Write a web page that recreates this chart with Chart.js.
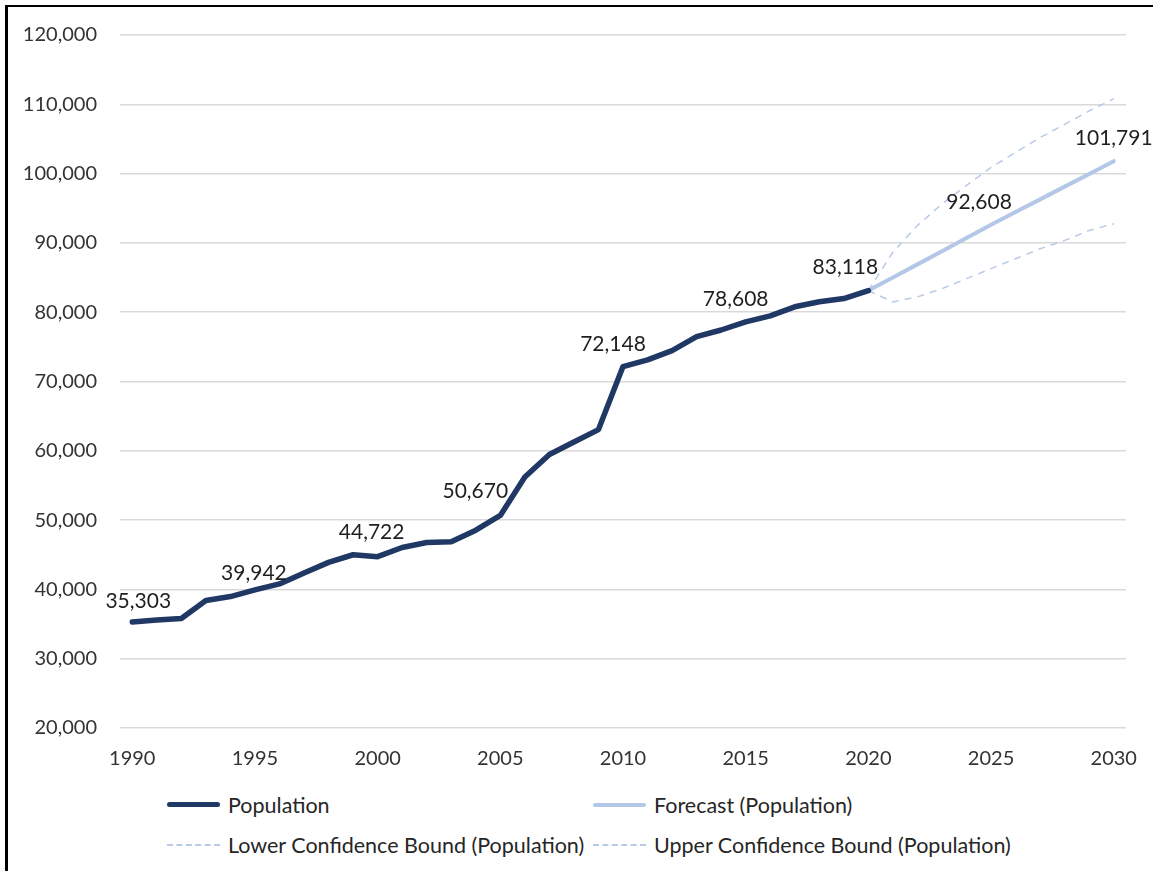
<!DOCTYPE html>
<html>
<head>
<meta charset="utf-8">
<title>Population forecast</title>
<script src="https://cdn.jsdelivr.net/npm/chart.js@4.4.1/dist/chart.umd.min.js"></script>
<style>
  body { margin: 0; background: #fff; font-family: Lato, sans-serif; }
  #wrap { position: relative; width: 1153px; height: 871px; overflow: hidden; }
  #frame { position: absolute; left: 5px; top: 5px; right: -10px; bottom: -10px;
           border-left: 3px solid #000; border-top: 2px solid #000; }
  #myChart { position: absolute; left: 0; top: 0; }
  .leg { position: absolute; font-size: 21.5px; color: #262626; white-space: nowrap; }
  .leg span.sample { position: absolute; top: 50%; }
</style>
</head>
<body>
<div id="wrap">
  <canvas id="myChart" width="1153" height="780"></canvas>
  <div id="legend"></div>
  <div id="frame"></div>
</div>
<script>
// categories
var years = [1990, 1991, 1992, 1993, 1994, 1995, 1996, 1997, 1998, 1999,
             2000, 2001, 2002, 2003, 2004, 2005, 2006, 2007, 2008, 2009,
             2010, 2011, 2012, 2013, 2014, 2015, 2016, 2017, 2018, 2019,
             2020, 2021, 2022, 2023, 2024, 2025, 2026, 2027, 2028, 2029, 2030];

// actual population 1990 - 2020
var population = [35303, 35600, 35800, 38390, 38970, 39942, 40790, 42370, 43900, 45000,
                  44722, 46050, 46770, 46870, 48550, 50670, 56210, 59470, 61280, 63060,
                  72148, 73120, 74450, 76470, 77430, 78608, 79480, 80780, 81500, 81970,
                  83118];

// forecast 2020 - 2030
var forecastYears = [2020, 2021, 2022, 2023, 2024, 2025, 2026, 2027, 2028, 2029, 2030];
var forecast = [83118, 85000, 86900, 88800, 90700, 92608, 94450, 96280, 98120, 99950, 101791];
var lowerBound = [83118, 81490, 82210, 83400, 84840, 86280, 87720, 89150, 90360, 91800, 92750];
var upperBound = [83118, 88680, 92510, 95620, 98300, 100890, 103050, 105200, 107110, 109040, 110800];

// years that carry a value label
var popLabelYears = [1990, 1995, 2000, 2005, 2010, 2015, 2020];
var forecastLabelYears = [2025, 2030];

var seriesNames = ['Population', 'Forecast (Population)',
                   'Lower Confidence Bound (Population)', 'Upper Confidence Bound (Population)'];

function alignToYears(startYear, values){
    var out = [];
    for (var i = 0; i < years.length; i++) {
        var k = years[i] - startYear;
        out.push(k >= 0 && k < values.length ? values[k] : null);
    }
    return out;
}

var navy = '#203864';
var light = '#b4c7e7';
var tickFont = { family: 'Lato', size: 20 };

// label offsets (px) relative to the point, same order as the label years
var popOffsets = [[6, -21], [-1, -17], [-6, -24], [-25, -24], [-10, -22], [-10, -23], [-23, -23]];
var fcOffsets = [[-12, -23], [0, -23]];

var valueLabels = {
    id: 'valueLabels',
    afterDatasetsDraw: function(chart){
        var ctx = chart.ctx;
        ctx.save();
        ctx.font = '21px Lato';
        ctx.fillStyle = '#1f1f1f';
        ctx.textAlign = 'center';
        ctx.textBaseline = 'middle';
        function put(dsIndex, yrs, offs){
            var meta = chart.getDatasetMeta(dsIndex);
            yrs.forEach(function(y, j){
                var idx = years.indexOf(y);
                var v = chart.data.datasets[dsIndex].data[idx];
                var pt = meta.data[idx];
                ctx.fillText(v.toLocaleString('en-US'), pt.x + offs[j][0], pt.y + offs[j][1]);
            });
        }
        put(0, popLabelYears, popOffsets);
        put(1, forecastLabelYears, fcOffsets);
        ctx.restore();
    }
};

var ctx = document.getElementById('myChart').getContext('2d');
var myChart = new Chart(ctx, {
    type: 'line',
    data: {
        labels: years,
        datasets: [{
            label: seriesNames[0],
            data: alignToYears(1990, population),
            borderColor: navy,
            borderWidth: 5.5,
            pointRadius: 0,
            borderCapStyle: 'round',
            borderJoinStyle: 'round'
        }, {
            label: seriesNames[1],
            data: alignToYears(forecastYears[0], forecast),
            borderColor: light,
            borderWidth: 4,
            pointRadius: 0,
            borderCapStyle: 'round'
        }, {
            label: seriesNames[2],
            data: alignToYears(forecastYears[0], lowerBound),
            borderColor: '#b8cae8',
            borderWidth: 1.5,
            borderDash: [7, 6],
            pointRadius: 0
        }, {
            label: seriesNames[3],
            data: alignToYears(forecastYears[0], upperBound),
            borderColor: '#b8cae8',
            borderWidth: 1.5,
            borderDash: [7, 6],
            pointRadius: 0
        }]
    },
    options: {
        responsive: false,
        animation: false,
        layout: { padding: { top: 30, right: 27, bottom: 0, left: 0 } },
        plugins: { legend: { display: false }, tooltip: { enabled: false } },
        scales: {
            x: {
                offset: true,
                grid: { display: false },
                border: { display: false },
                afterFit: function(scale){ scale.height = 52; },
                ticks: {
                    autoSkip: false,
                    maxRotation: 0,
                    padding: 11,
                    color: '#333',
                    font: tickFont,
                    callback: function(val, i){ return years[i] % 5 === 0 ? String(years[i]) : ''; }
                }
            },
            y: {
                min: 20000,
                max: 120000,
                afterFit: function(scale){ scale.width = 120; },
                grid: { color: '#d9d9d9', lineWidth: 1.5, drawTicks: false },
                border: { display: false },
                ticks: {
                    stepSize: 10000,
                    padding: 23,
                    color: '#333',
                    font: tickFont,
                    callback: function(v){ return v.toLocaleString('en-US'); }
                }
            }
        }
    },
    plugins: [valueLabels]
});

// two-column legend built from the chart's datasets
var legendPos = [[167, 805], [593, 805], [167, 845], [593, 845]];
var legend = document.getElementById('legend');
myChart.data.datasets.forEach(function(ds, i){
    var item = document.createElement('div');
    item.className = 'leg';
    item.style.left = legendPos[i][0] + 'px';
    item.style.top = (legendPos[i][1] - 13) + 'px';
    item.style.height = '26px';
    item.style.lineHeight = '26px';
    item.style.paddingLeft = '61px';
    var s = document.createElement('span');
    s.className = 'sample';
    s.style.left = '0px';
    s.style.width = '53px';
    var w = ds.borderDash ? 2 : ds.borderWidth;
    s.style.marginTop = (-w / 2) + 'px';
    s.style.borderTop = w + 'px ' + (ds.borderDash ? 'dashed ' : 'solid ') + ds.borderColor;
    if (!ds.borderDash) s.style.borderRadius = '3px';
    item.appendChild(s);
    item.appendChild(document.createTextNode(ds.label));
    legend.appendChild(item);
});
</script>
</body>
</html>
